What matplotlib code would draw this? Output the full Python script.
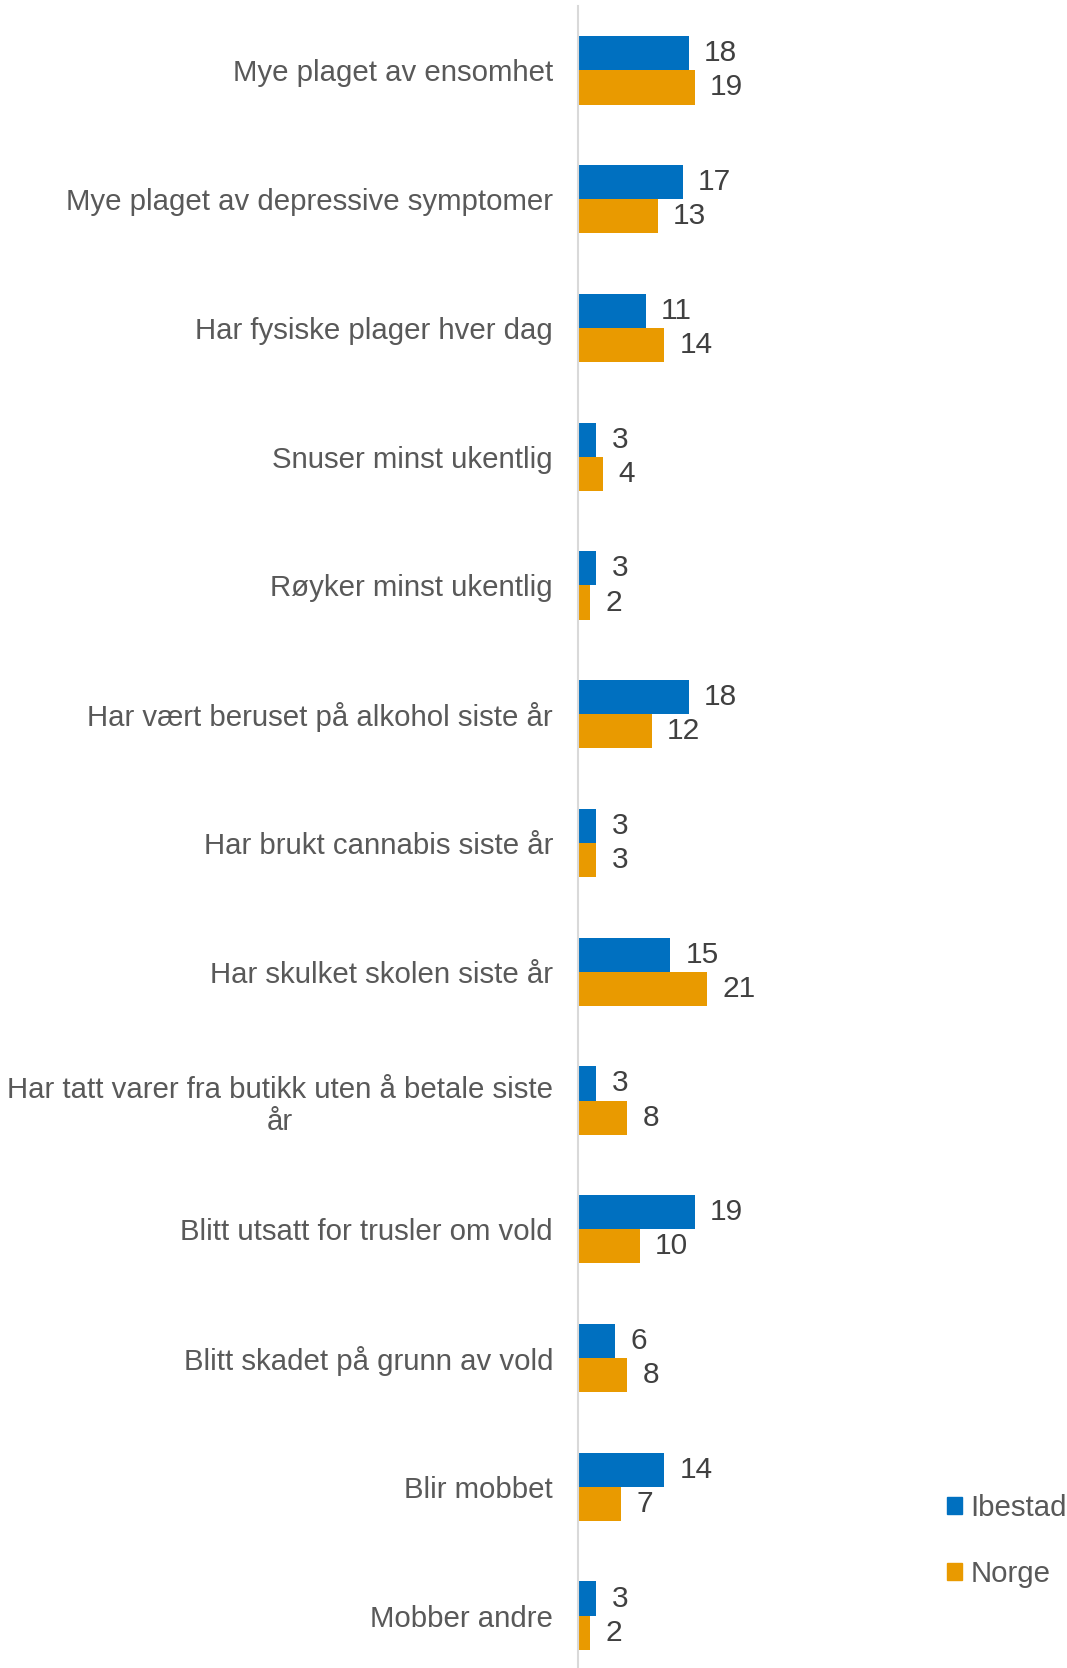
import numpy as np
import matplotlib.pyplot as plt
import matplotlib.patches as mpatches

plt.rcParams['font.family'] = ['Liberation Sans', 'DejaVu Sans']

# Data
categories = [
    "Mye plaget av ensomhet",
    "Mye plaget av depressive symptomer",
    "Har fysiske plager hver dag",
    "Snuser minst ukentlig",
    "Røyker minst ukentlig",
    "Har vært beruset på alkohol siste år",
    "Har brukt cannabis siste år",
    "Har skulket skolen siste år",
    "Har tatt varer fra butikk uten å betale siste\når",
    "Blitt utsatt for trusler om vold",
    "Blitt skadet på grunn av vold",
    "Blir mobbet",
    "Mobber andre",
]
ibestad = [18, 17, 11, 3, 3, 18, 3, 15, 3, 19, 6, 14, 3]
norge = [19, 13, 14, 4, 2, 12, 3, 21, 8, 10, 8, 7, 2]

blue = "#0070C0"
orange = "#E99A00"
label_color = "#595959"
value_color = "#404040"

W, H = 1067, 1668
fig = plt.figure(figsize=(W / 100, H / 100), dpi=100, facecolor="white")
ax = fig.add_axes([578 / W, -12 / H, 246 / W, 1674 / H])

y = np.arange(len(categories))
h = 0.265
b1 = ax.barh(y - h / 2, ibestad, height=h, color=blue, label="Ibestad")
b2 = ax.barh(y + h / 2, norge, height=h, color=orange, label="Norge")

ax.bar_label(b1, padding=11, fontsize=21.5, color=value_color)
ax.bar_label(b2, padding=11, fontsize=21.5, color=value_color)

ax.set_xlim(0, 40)
ax.set_ylim(len(categories) - 0.5, -0.5)
ax.set_yticks(y)
ax.set_yticklabels(categories, fontsize=21.2, color=label_color)
for t in ax.get_yticklabels():
    t.set_multialignment("center")
ax.tick_params(axis="y", length=0, pad=18)
ax.set_xticks([])

for side in ["top", "right", "bottom"]:
    ax.spines[side].set_visible(False)
ax.spines["left"].set_color("#D9D9D9")
ax.spines["left"].set_linewidth(1.5)
ax.set_facecolor("none")

handles = [
    mpatches.Patch(color=blue, label="Ibestad"),
    mpatches.Patch(color=orange, label="Norge"),
]
fig.legend(
    handles=handles, loc="upper left", bbox_to_anchor=(947 / W, 1 - 1494 / H),
    frameon=False, fontsize=21.2, labelcolor=label_color,
    handlelength=0.5, handleheight=0.5, handletextpad=0.3, labelspacing=1.3,
    borderaxespad=0, borderpad=0,
)

fig.savefig("out.png", dpi=100, facecolor="white")
